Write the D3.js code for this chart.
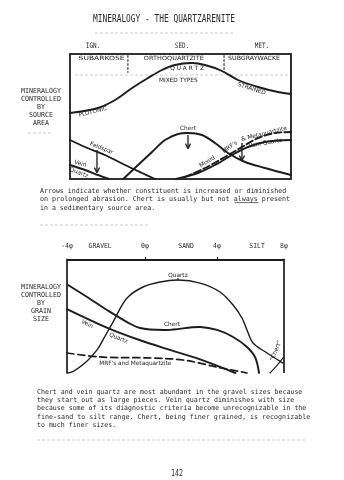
<!DOCTYPE html>
<html><head><meta charset="utf-8">
<script src="https://cdn.jsdelivr.net/npm/d3@7"></script>
<style>html,body{margin:0;padding:0;background:#fff;}svg{display:block;will-change:transform;}</style>
</head><body>
<script>
// ---------- Source-area panel: x = source spectrum (0–100), y = relative abundance (0–100)
const sourceColumns = ["IGN.", "SED.", "MET."];
const sourceColumnPos = [10.4, 50.7, 86.9];
const rockTypes = ["SUBARKOSE", "ORTHOQUARTZITE", "SUBGRAYWACKE"];
const rockTypePos = [14.3, 47.0, 83.3];
const rockDividers = [26.2, 69.7];
const srcQuartz = [[0,52.8],[12.7,56.8],[20.4,63.2],[28.1,72.8],[35.3,80.8],[41.6,87.2],[47.5,91.2],[55.2,92.8],[61.1,91.2],[68.8,86.4],[76,79.2],[85.1,73.6],[94.1,69.6],[100,68]];
const srcChert = [[24.1,0],[30.8,11.2],[37.1,21.6],[43,31.2],[48.9,36],[53.4,36.8],[59.7,35.2],[65.6,28.8],[71.5,20.8],[79.2,13.6],[88.2,8.8],[100,3.2]];
const srcFeldspar = [[0,31.2],[6.8,25.6],[15.8,19.2],[24.9,11.2],[32.6,4.8],[38.5,0]];
const srcVeinLeft = [[0,11.2],[6.8,7.2],[12.7,3.2],[17.6,0]];
const srcVeinRight = [[48,0],[57.9,4.8],[65.6,11.2],[73.3,19.2],[80.5,25.6],[88.2,29.6],[100,31.2]];
const srcMetaquartzite = [[52,1.6],[61.1,8.8],[70.1,17.6],[77.8,25.6],[85.1,32.8],[92.8,36.8],[100,37.6]];
// abrasion arrows: [x, from, to]
const srcArrows = [[53.4,35.2,24.8],[12.2,23.2,5.6],[77.8,28.8,15.2]];
// hand-written curve labels: [text, x, y, angle]
const srcLabels = [
  ["PLUTONIC",10.5,52.5,-14],["Q U A R T Z",53,87,0],["MIXED TYPES",49,77.5,0],["STRAINED",82,71,18],
  ["Chert",53.4,39,0],["Feldspar",14,23.5,22],["Vein",4.5,11,14],["Quartz",3.8,3.8,22],
  ["Mixed",62.5,12.8,-32],["MRF's",72.8,24.5,-36],["& Metaquartzite",88,35,-14],["Vein Quartz",88.5,27.5,-10]
];
const sideLabels1 = ["MINERALOGY","CONTROLLED","BY","SOURCE","AREA"];
const caption1 = [
  "Arrows indicate whether constituent is increased or diminished",
  "on prolonged abrasion.  Chert is usually but not always present",
  "in a sedimentary source area."
];

// ---------- Grain-size panel: x = grain size in phi units, y = relative abundance (0–100)
const phiTicks = [-4, 0, 4, 8];
const phiTickLabels = ["-4\u03c6", "0\u03c6", "4\u03c6", "8\u03c6"];
const sizeClasses = ["GRAVEL", "SAND", "SILT"];
const sizeClassPos = [-2.3, 2.28, 6.39];
const gsQuartz = [[-4,0],[-3.74,1],[-2.97,10.6],[-2.46,20.4],[-2.1,31],[-1.64,45.1],[-0.92,66.4],[-0.1,76.1],[0.83,80.5],[1.83,82.3],[3.06,79.6],[4.18,71.7],[4.96,60.2],[5.49,48.7],[5.79,38.1],[6.15,26.5],[6.99,17.7],[7.94,8.8]];
const gsChert = [[-3.95,77.9],[-2.97,67.3],[-1.95,55.8],[-0.92,45.1],[-0.26,39.8],[1.22,38.1],[3.06,40.7],[4,38.1],[4.96,31.9],[5.79,23],[6.27,14.2],[6.51,0]];
const gsVein = [[-4,56.6],[-1.9,39.8],[-0.28,29.2],[1.39,20.4],[3.33,10.6],[5.1,0]];
const gsMetaquartzite = [[-4,17.7],[-2.31,14.2],[0.28,13.3],[2.11,11.5],[4,5.3],[5.79,0]];
const gsSiltChert = [[7.16,0],[7.6,7],[7.98,14]];
const gsLabels = [
  ["Quartz",1.83,85,0],["Chert",1.5,42,0],["Vein",-3.0,42,26],["Quartz",-1.4,29.5,22],
  ["MRF's and Metaquartzite",-0.5,7.5,0],["\u201cChert\u201d",7.6,19,-68]
];
const sideLabels2 = ["MINERALOGY","CONTROLLED","BY","GRAIN","SIZE"];
const caption2 = [
  "Chert and vein quartz are most abundant in the gravel sizes because",
  "they start out as large pieces.  Vein quartz diminishes with size",
  "because some of its diagnostic criteria become unrecognizable in the",
  "fine-sand to silt range.  Chert, being finer grained, is recognizable",
  "to much finer sizes."
];
const pageNumber = "142";

const W = 344, H = 480;
const ink = "#1c1c1c";
const textInk = "#2a2a2a";
const typeFont = "'DejaVu Sans Mono', monospace";
const handFont = "'DejaVu Sans', sans-serif";

const svg = d3.select("body").append("svg").attr("width", W).attr("height", H)
  .style("background", "#fff");

// typewritten line squeezed to a fixed pitch
function typeLine(g, str, x, y, pitch, size, anchor) {
  return g.append("text").attr("x", x).attr("y", y).text(str)
    .attr("font-family", typeFont).attr("font-size", size).attr("fill", textInk)
    .attr("text-anchor", anchor || "start")
    .attr("textLength", str.length * pitch).attr("lengthAdjust", "spacingAndGlyphs");
}

// page title
typeLine(svg, "MINERALOGY - THE QUARTZARENITE", 93, 21.5, 4.73, 10.5);

// faint show-through rules on the page
const ghost = svg.append("g").attr("stroke", "#cdcdcd").attr("stroke-width", 1).attr("stroke-dasharray", "3,2").attr("fill", "none");
[[95,233,33],[75,290,75],[28,52,133],[40,150,225],[37,305,440]].forEach(d =>
  ghost.append("line").attr("x1", d[0]).attr("x2", d[1]).attr("y1", d[2]).attr("y2", d[2]));

// ===== panel 1
const x1 = d3.scaleLinear().domain([0, 100]).range([70, 291]);
const y1 = d3.scaleLinear().domain([0, 100]).range([179, 54]);
const p1 = svg.append("g");

sourceColumns.forEach((c, i) => typeLine(p1, c, x1(sourceColumnPos[i]), 48, 3.6, 7.5, "middle"));

p1.append("rect").attr("x", x1(0)).attr("y", y1(100)).attr("width", x1(100) - x1(0)).attr("height", y1(0) - y1(100))
  .attr("fill", "none").attr("stroke", ink).attr("stroke-width", 1.8);

rockDividers.forEach(d => p1.append("line").attr("x1", x1(d)).attr("x2", x1(d)).attr("y1", y1(99)).attr("y2", y1(85))
  .attr("stroke", ink).attr("stroke-width", 1.1).attr("stroke-dasharray", "2.5,1.5"));
rockTypes.forEach((r, i) => p1.append("text").attr("x", x1(rockTypePos[i])).attr("y", 60).attr("text-anchor", "middle")
  .attr("font-family", handFont).attr("font-size", 5.8).attr("fill", ink).attr("textLength", [46, 60, 52][i])
  .attr("lengthAdjust", "spacingAndGlyphs").text(r));

const line1 = d3.line().x(d => x1(d[0])).y(d => y1(d[1])).curve(d3.curveCatmullRom.alpha(0.5));
[[srcQuartz, null], [srcChert, null], [srcFeldspar, null], [srcVeinLeft, null], [srcVeinRight, null], [srcMetaquartzite, "7,3"]]
  .forEach(([pts, dash]) => p1.append("path").attr("d", line1(pts)).attr("fill", "none").attr("stroke", ink)
    .attr("stroke-width", 1.9).attr("stroke-linecap", "round").attr("stroke-dasharray", dash));

// arrow heads
const defs = svg.append("defs");
defs.append("marker").attr("id", "ah").attr("viewBox", "0 0 10 10").attr("refX", 8).attr("refY", 5)
  .attr("markerWidth", 5).attr("markerHeight", 5).attr("orient", "auto")
  .append("path").attr("d", "M1,1 L9,5 L1,9").attr("fill", "none").attr("stroke", ink).attr("stroke-width", 2);
srcArrows.forEach(a => p1.append("line").attr("x1", x1(a[0])).attr("x2", x1(a[0])).attr("y1", y1(a[1])).attr("y2", y1(a[2]))
  .attr("stroke", ink).attr("stroke-width", 1.3).attr("marker-end", "url(#ah)"));

srcLabels.forEach(l => p1.append("text").attr("transform", `translate(${x1(l[1])},${y1(l[2])}) rotate(${l[3]})`)
  .attr("text-anchor", "middle").attr("font-family", handFont).attr("font-size", 5.8).attr("fill", ink).text(l[0]));

sideLabels1.forEach((s, i) => typeLine(svg, s, 41, 93 + i * 8, 4.0, 7, "middle"));
caption1.forEach((s, i) => typeLine(svg, s, 40, 193 + i * 8.4, 3.97, 6.8));
// underline on "always"
svg.append("line").attr("x1", 40 + 49 * 3.97).attr("x2", 40 + 55 * 3.97).attr("y1", 202.6).attr("y2", 202.6)
  .attr("stroke", textInk).attr("stroke-width", 0.7);

// ===== panel 2
const x2 = d3.scaleLinear().domain([-4, 0, 4, 8]).range([67, 145, 217, 284]);
const y2 = d3.scaleLinear().domain([0, 100]).range([373, 260]);
const p2 = svg.append("g");

phiTickLabels.forEach((t, i) => typeLine(p2, t, x2(phiTicks[i]), 248, 3.9, 7, "middle"));
sizeClasses.forEach((t, i) => typeLine(p2, t, x2(sizeClassPos[i]), 248, 3.85, 7, "middle"));

const axisTop = d3.axisTop(x2).tickValues([0, 4]).tickSize(3).tickFormat("");
p2.append("g").attr("transform", `translate(0,${y2(100)})`).call(axisTop)
  .call(g => g.select(".domain").attr("stroke", ink).attr("stroke-width", 1.8).attr("d", `M${x2(-4)},0H${x2(8)}`))
  .call(g => g.selectAll(".tick line").attr("stroke", ink).attr("stroke-width", 1.2));
[-4, 8].forEach(v => p2.append("line").attr("x1", x2(v)).attr("x2", x2(v)).attr("y1", y2(101)).attr("y2", y2(0))
  .attr("stroke", ink).attr("stroke-width", 1.7));

const line2 = d3.line().x(d => x2(d[0])).y(d => y2(d[1])).curve(d3.curveCatmullRom.alpha(0.5));
[[gsQuartz, null, 1.4], [gsChert, null, 1.9], [gsVein, null, 1.9], [gsMetaquartzite, "7,4", 1.7], [gsSiltChert, null, 1.1]]
  .forEach(([pts, dash, w]) => p2.append("path").attr("d", line2(pts)).attr("fill", "none").attr("stroke", ink)
    .attr("stroke-width", w).attr("stroke-linecap", "round").attr("stroke-dasharray", dash));
// peak tick on quartz
p2.append("line").attr("x1", x2(1.83)).attr("x2", x2(1.83)).attr("y1", y2(82.3) - 2).attr("y2", y2(82.3) + 1)
  .attr("stroke", ink).attr("stroke-width", 1);

gsLabels.forEach(l => p2.append("text").attr("transform", `translate(${x2(l[1])},${y2(l[2])}) rotate(${l[3]})`)
  .attr("text-anchor", "middle").attr("font-family", handFont).attr("font-size", 5.8).attr("fill", ink).text(l[0]));

sideLabels2.forEach((s, i) => typeLine(svg, s, 41, 288.5 + i * 8.1, 4.0, 7, "middle"));
caption2.forEach((s, i) => typeLine(svg, s, 37, 393.5 + i * 8.4, 3.96, 6.8));

typeLine(svg, pageNumber, 177, 476, 4, 8, "middle");
</script>
</body></html>
